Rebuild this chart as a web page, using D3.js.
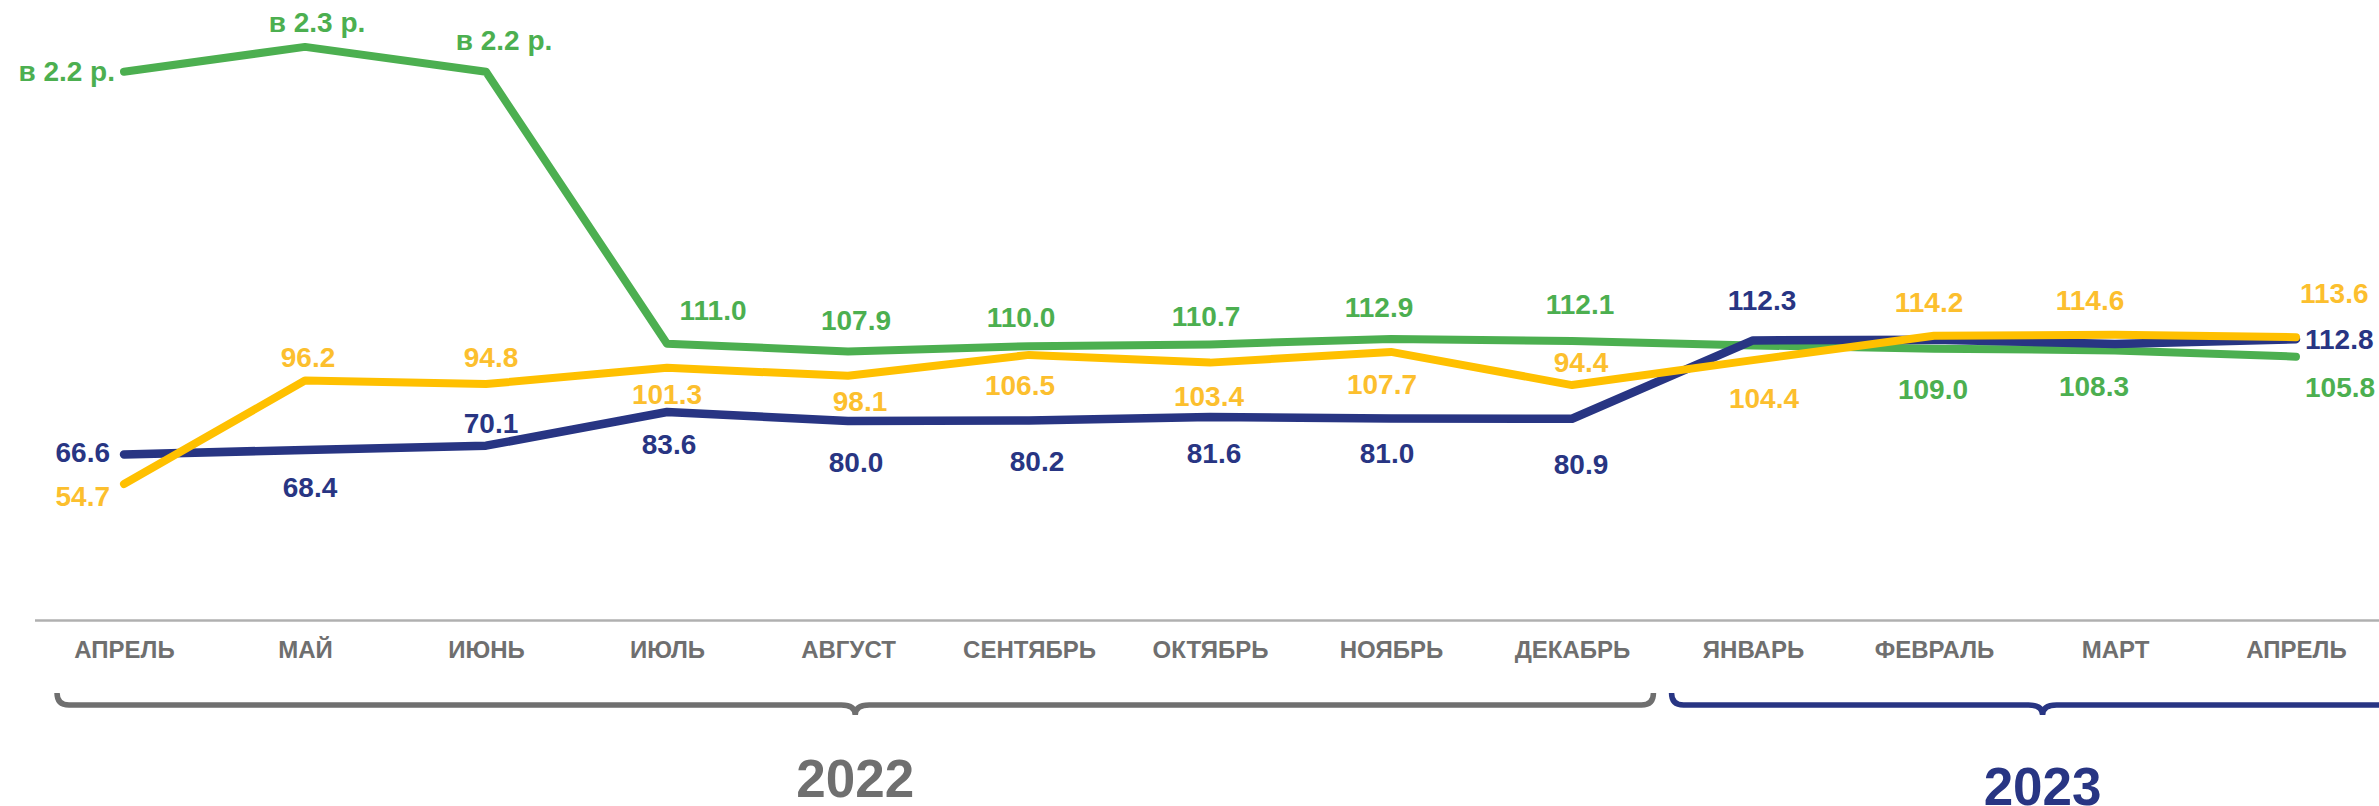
<!DOCTYPE html>
<html>
<head>
<meta charset="utf-8">
<script src="https://cdn.jsdelivr.net/npm/d3@7"></script>
<style>
  body { margin: 0; background: #fff; }
  text { font-family: "Liberation Sans", Arial, sans-serif; font-weight: bold; }
</style>
</head>
<body>
<script>
// months on the x axis
var months = ["АПРЕЛЬ", "МАЙ", "ИЮНЬ", "ИЮЛЬ", "АВГУСТ", "СЕНТЯБРЬ", "ОКТЯБРЬ",
  "НОЯБРЬ", "ДЕКАБРЬ", "ЯНВАРЬ", "ФЕВРАЛЬ", "МАРТ", "АПРЕЛЬ"];

// year groups
var years = ["2022", "2023"];

// series values
var blueValues = [66.6, 68.4, 70.1, 83.6, 80.0, 80.2, 81.6, 81.0, 80.9, 112.3, 112.6, 110.9, 112.8];
var yellowValues = [54.7, 96.2, 94.8, 101.3, 98.1, 106.5, 103.4, 107.7, 94.4, 104.4, 114.2, 114.6, 113.6];
var greenValues = [220, 230, 220, 111.0, 107.9, 110.0, 110.7, 112.9, 112.1, 110.3, 109.0, 108.3, 105.8];

// label texts (null = no label)
var blueLabels = ["66.6", "68.4", "70.1", "83.6", "80.0", "80.2", "81.6", "81.0", "80.9", "112.3", null, null, "112.8"];
var yellowLabels = ["54.7", "96.2", "94.8", "101.3", "98.1", "106.5", "103.4", "107.7", "94.4", "104.4", "114.2", "114.6", "113.6"];
var greenLabels = ["в 2.2 р.", "в 2.3 р.", "в 2.2 р.", "111.0", "107.9", "110.0", "110.7", "112.9", "112.1", null, "109.0", "108.3", "105.8"];

// label placement: [anchor, dx, dy]
var bluePlace = [["end", -14, 8], ["middle", 5, 47], ["middle", 5, -13], ["middle", 2, 42],
  ["middle", 8, 51], ["middle", 8, 51], ["middle", 4, 46], ["middle", -4, 45], ["middle", 9, 55],
  ["middle", 9, -30], null, null, ["start", 9, 10]];
var yellowPlace = [["end", -14, 22], ["middle", 3, -14], ["middle", 5, -17], ["middle", 0, 36],
  ["middle", 12, 35], ["middle", -9, 40], ["middle", -1, 43], ["middle", -9, 42], ["middle", 9, -13],
  ["middle", 11, 48], ["middle", -5, -24], ["middle", -25, -25], ["start", 4, -34]];
var greenPlace = [["end", -9, 9], ["middle", 12, -15], ["middle", 18, -22], ["middle", 46, -24],
  ["middle", 8, -21], ["middle", -8, -19], ["middle", -4, -18], ["middle", -12, -22], ["middle", 8, -27],
  null, ["middle", -1, 50], ["middle", -21, 46], ["start", 9, 40]];

var svgWidth = 2379;
var svgHeight = 806;

var svg = d3.select("body")
  .append("svg")
  .attr("width", svgWidth)
  .attr("height", svgHeight);

var xScale = d3.scaleLinear()
  .domain([0, months.length - 1])
  .range([124, 2296]);

var yScale = d3.scaleLinear()
  .domain([0, 250])
  .range([620.5, -3]);

// baseline
svg.append("line")
  .attr("x1", 35)
  .attr("x2", svgWidth)
  .attr("y1", yScale(0))
  .attr("y2", yScale(0))
  .attr("stroke", "#b0b0b0")
  .attr("stroke-width", 2.5);

// month labels
var xAxis = d3.axisBottom(xScale)
  .tickValues(d3.range(months.length))
  .tickFormat(i => months[i])
  .tickSize(0)
  .tickPadding(0);

var axisG = svg.append("g")
  .attr("transform", `translate(0, ${yScale(0)})`)
  .call(xAxis);
axisG.select(".domain").remove();
axisG.selectAll("text")
  .attr("dy", null)
  .attr("y", 37)
  .attr("fill", "#6f6f6f")
  .style("font-family", '"Liberation Sans", Arial, sans-serif')
  .style("font-weight", "bold")
  .style("font-size", "24px");

// braces under the years
var yearColors = ["#6f6f6f", "#283583"];
var braceExt = [[-0.37, 8.45], [8.55, 12.65]];
var yTop = 693, yBar = 705, r = 12;

years.forEach(function (yr, k) {
  var x0 = xScale(braceExt[k][0]);
  var x1 = xScale(braceExt[k][1]);
  var mid = (x0 + x1) / 2;
  var p = d3.path();
  p.moveTo(x0, yTop);
  p.quadraticCurveTo(x0, yBar, x0 + r, yBar);
  p.lineTo(mid - 14, yBar);
  p.quadraticCurveTo(mid, yBar, mid, yBar + 10);
  p.quadraticCurveTo(mid, yBar, mid + 14, yBar);
  p.lineTo(x1 - r, yBar);
  p.quadraticCurveTo(x1, yBar, x1, yTop);
  svg.append("path")
    .attr("d", p.toString())
    .attr("fill", "none")
    .attr("stroke", yearColors[k])
    .attr("stroke-width", 5.5);

  svg.append("text")
    .attr("x", mid)
    .attr("y", k === 0 ? 797 : 805)
    .attr("text-anchor", "middle")
    .attr("fill", yearColors[k])
    .style("font-size", "53px")
    .text(yr);
});

// lines
var series = [
  { values: greenValues, labels: greenLabels, place: greenPlace, color: "#4caf50", text: "#4caf50", width: 8 },
  { values: blueValues, labels: blueLabels, place: bluePlace, color: "#283583", text: "#283583", width: 8.5 },
  { values: yellowValues, labels: yellowLabels, place: yellowPlace, color: "#ffc000", text: "#fcbf2e", width: 8 }
];

var line = d3.line()
  .x((d, i) => xScale(i))
  .y(d => yScale(d));

series.forEach(function (s) {
  svg.append("path")
    .datum(s.values)
    .attr("d", line)
    .attr("fill", "none")
    .attr("stroke", s.color)
    .attr("stroke-width", s.width)
    .attr("stroke-linecap", "round")
    .attr("stroke-linejoin", "round");
});

// value labels
series.forEach(function (s) {
  svg.append("g")
    .selectAll("text")
    .data(s.values.map((v, i) => ({ v: v, i: i, label: s.labels[i], place: s.place[i] }))
      .filter(d => d.label !== null))
    .enter()
    .append("text")
    .attr("x", d => xScale(d.i) + d.place[1])
    .attr("y", d => yScale(d.v) + d.place[2])
    .attr("text-anchor", d => d.place[0])
    .attr("fill", s.text)
    .style("font-size", "28px")
    .text(d => d.label);
});
</script>
</body>
</html>
